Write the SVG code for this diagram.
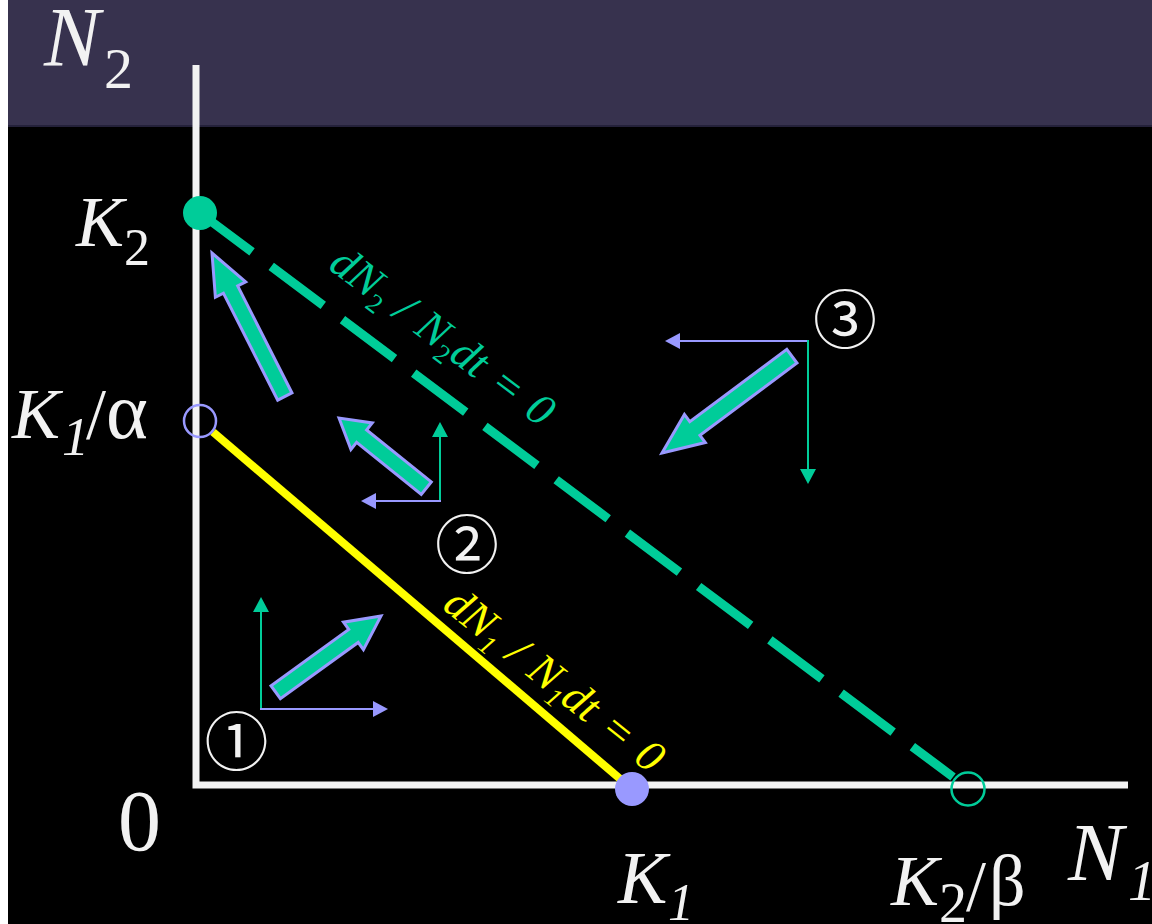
<svg xmlns="http://www.w3.org/2000/svg" width="1152" height="924" viewBox="0 0 1152 924">
<defs>
<style>
.t{font-family:"Liberation Serif","Times New Roman",serif;fill:#f2f2f2}
.i{font-style:italic}
.ax{stroke:#f2f2f2;stroke-width:7;fill:none}
.blk{fill:#00cc99;stroke:#9999ff;stroke-width:3;stroke-linejoin:miter}
.tg{stroke:#00cc99;stroke-width:2;fill:none}
.tl{stroke:#9999ff;stroke-width:2;fill:none}
.num{font-family:"Noto Sans CJK JP","DejaVu Sans",sans-serif;fill:#f2f2f2;font-size:64px}
.eq{font-size:45px;word-spacing:3px}
</style>
<marker id="mg" markerUnits="userSpaceOnUse" markerWidth="16" markerHeight="16" refX="10" refY="8" orient="auto"><path d="M0,0 L15,8 L0,16 Z" fill="#00cc99"/></marker>
<marker id="ml" markerUnits="userSpaceOnUse" markerWidth="16" markerHeight="16" refX="10" refY="8" orient="auto"><path d="M0,0 L15,8 L0,16 Z" fill="#9999ff"/></marker>
</defs>
<g id="background">
<rect x="0" y="0" width="1152" height="924" fill="#000"/>
<rect x="0" y="0" width="8" height="924" fill="#ffffff"/>
<rect x="8" y="0" width="1144" height="125" fill="#37324e"/>
<rect x="8" y="125" width="1144" height="2" fill="#24213a"/>
</g>
<g id="axes">
<polyline class="ax" points="196,65 196,785 1128,785"/>
</g>
<g id="connectors">
<line id="isocline-2" x1="200" y1="213" x2="953" y2="777" stroke="#00cc99" stroke-width="9" stroke-dasharray="65 24"/>
<line id="isocline-1" x1="213" y1="432" x2="632" y2="789" stroke="#ffff00" stroke-width="8"/>
</g>
<g id="node-K2"><circle cx="200" cy="213" r="17" fill="#00cc99"/></g>
<g id="node-K1a"><circle cx="200" cy="421" r="16" fill="none" stroke="#9999ff" stroke-width="2.5"/></g>
<g id="node-K1"><circle cx="632" cy="789" r="17" fill="#9999ff"/></g>
<g id="node-K2b"><circle cx="968" cy="789" r="16.5" fill="none" stroke="#00cc99" stroke-width="2.5"/></g>
<g id="flow-arrows">
<path class="blk" transform="translate(212,253) rotate(-116.9)" d="M0,0 L-41,-17 L-41,-8 L-161,-8 L-161,8 L-41,8 L-41,17 Z"/>
<path class="blk" transform="translate(339,418) rotate(-141.2)" d="M0,0 L-29,-17 L-29,-8 L-112,-8 L-112,8 L-29,8 L-29,17 Z"/>
<path class="blk" transform="translate(662,453) rotate(143.3)" d="M0,0 L-41,-17.5 L-41,-8.5 L-162,-8.5 L-162,8.5 L-41,8.5 L-41,17.5 Z"/>
<path class="blk" transform="translate(381,616) rotate(-35.9)" d="M0,0 L-34,-17 L-34,-8 L-130,-8 L-130,8 L-34,8 L-34,17 Z"/>
</g>
<g id="component-arrows">
<line class="tg" x1="261" y1="709" x2="261" y2="602" marker-end="url(#mg)"/>
<line class="tl" x1="260" y1="709" x2="383" y2="709" marker-end="url(#ml)"/>
<line class="tg" x1="440" y1="502" x2="440" y2="427" marker-end="url(#mg)"/>
<line class="tl" x1="441" y1="501" x2="366" y2="501" marker-end="url(#ml)"/>
<line class="tl" x1="809" y1="341" x2="670" y2="341" marker-end="url(#ml)"/>
<line class="tg" x1="808" y1="340" x2="808" y2="479" marker-end="url(#mg)"/>
</g>
<g id="labels">
<text class="t"><tspan class="i" x="44" y="66" font-size="84">N</tspan><tspan x="104" y="88" font-size="58">2</tspan></text>
<text class="t"><tspan class="i" x="76" y="246" font-size="72">K</tspan><tspan x="124" y="265" font-size="52">2</tspan></text>
<text class="t"><tspan class="i" x="12" y="438" font-size="72">K</tspan><tspan class="i" x="62" y="455" font-size="54">1</tspan><tspan x="86" y="438" font-size="72">/</tspan><tspan x="106" y="438" font-size="80">α</tspan></text>
<text class="t" x="118" y="850" font-size="86">0</text>
<text class="t"><tspan class="i" x="618" y="903" font-size="74">K</tspan><tspan class="i" x="668" y="920" font-size="52">1</tspan></text>
<text class="t"><tspan class="i" x="891" y="905" font-size="72">K</tspan><tspan x="939" y="922" font-size="56">2</tspan><tspan x="966" y="910" font-size="72">/</tspan><tspan x="989" y="905" font-size="72">β</tspan></text>
<text class="t"><tspan class="i" x="1068" y="880" font-size="83">N</tspan><tspan class="i" x="1128" y="900" font-size="56">1</tspan></text>
<text class="t i eq" transform="translate(327,268) rotate(36.8)" style="fill:#00cc99">dN<tspan font-size="27" font-style="normal" dy="9">2</tspan><tspan dy="-9"> / N</tspan><tspan font-size="27" font-style="normal" dy="9">2</tspan><tspan dy="-9">dt = 0</tspan></text>
<text class="t i eq" transform="translate(441,608) rotate(38.5)" style="fill:#ffff00">dN<tspan font-size="27" dy="9">1</tspan><tspan dy="-9"> / N</tspan><tspan font-size="27" dy="9">1</tspan><tspan dy="-9">dt = 0</tspan></text>
<text class="num" x="236.5" y="737" text-anchor="middle" dominant-baseline="central">①</text>
<text class="num" x="467" y="540" text-anchor="middle" dominant-baseline="central">②</text>
<text class="num" x="845" y="315" text-anchor="middle" dominant-baseline="central">③</text>
</g>
</svg>
